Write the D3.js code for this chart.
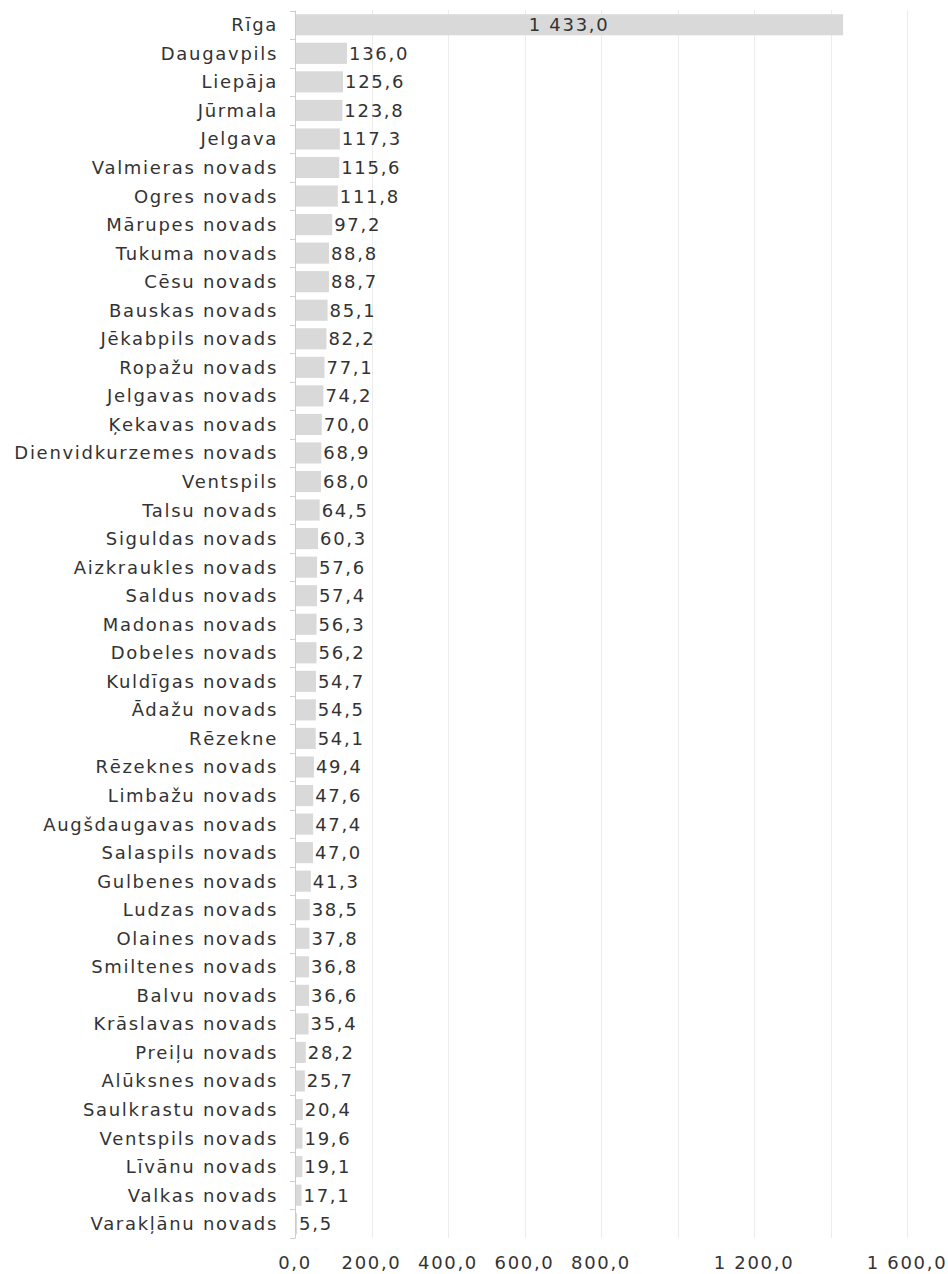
<!DOCTYPE html>
<html><head><meta charset="utf-8">
<script src="https://cdn.jsdelivr.net/npm/d3@7"></script>
<style>body{margin:0;background:#fff}svg text{font-family:"DejaVu Sans",sans-serif;}</style>
</head><body><div id="chart"></div>
<script>
const categories = ["Rīga","Daugavpils","Liepāja","Jūrmala","Jelgava","Valmieras novads","Ogres novads","Mārupes novads","Tukuma novads","Cēsu novads","Bauskas novads","Jēkabpils novads","Ropažu novads","Jelgavas novads","Ķekavas novads","Dienvidkurzemes novads","Ventspils","Talsu novads","Siguldas novads","Aizkraukles novads","Saldus novads","Madonas novads","Dobeles novads","Kuldīgas novads","Ādažu novads","Rēzekne","Rēzeknes novads","Limbažu novads","Augšdaugavas novads","Salaspils novads","Gulbenes novads","Ludzas novads","Olaines novads","Smiltenes novads","Balvu novads","Krāslavas novads","Preiļu novads","Alūksnes novads","Saulkrastu novads","Ventspils novads","Līvānu novads","Valkas novads","Varakļānu novads"];
const values = [1433.0,136.0,125.6,123.8,117.3,115.6,111.8,97.2,88.8,88.7,85.1,82.2,77.1,74.2,70.0,68.9,68.0,64.5,60.3,57.6,57.4,56.3,56.2,54.7,54.5,54.1,49.4,47.6,47.4,47.0,41.3,38.5,37.8,36.8,36.6,35.4,28.2,25.7,20.4,19.6,19.1,17.1,5.5];
const gridTicks = [0,200,400,600,800,1000,1200,1400,1600];
const labelTicks = [0,200,400,600,800,1200,1600];

const W=948,H=1274;
const loc = d3.formatLocale({decimal:",",thousands:"\u00a0",grouping:[3],currency:["",""]});
const fmt = loc.format(",.1f");
const svg = d3.select("#chart").append("svg").attr("width",W).attr("height",H);
const x = d3.scaleLinear().domain([0,1600]).range([295,907]);
const plotTop=10.5,plotBottom=1238;
const y = d3.scaleBand().domain(categories).range([plotTop,plotBottom]).paddingInner(0.26).paddingOuter(0.13);
const fs=18, ls="1.7px", col="#333";

svg.append("g").selectAll("line").data(gridTicks.slice(1)).join("line")
 .attr("x1",d=>Math.round(x(d))+0.5).attr("x2",d=>Math.round(x(d))+0.5)
 .attr("y1",plotTop).attr("y2",plotBottom)
 .attr("stroke","#d8d8d8").attr("stroke-width",1).attr("stroke-dasharray","1,1");

svg.append("g").selectAll("rect").data(values).join("rect")
 .attr("x",x(0)+1).attr("y",(d,i)=>y(categories[i]))
 .attr("width",d=>x(d)-x(0)-1).attr("height",y.bandwidth())
 .attr("fill","#d9d9d9");

const step=y.step();
const yax=svg.append("g");
yax.append("line").attr("x1",295.5).attr("x2",295.5).attr("y1",plotTop).attr("y2",plotBottom).attr("stroke","#ccc");
yax.selectAll("line.t").data(d3.range(categories.length+1)).join("line").attr("class","t")
 .attr("x1",290).attr("x2",295.5).attr("y1",i=>Math.round(plotTop+i*step)+0.5).attr("y2",i=>Math.round(plotTop+i*step)+0.5)
 .attr("stroke","#ccc");

svg.append("g").selectAll("text").data(categories).join("text")
 .attr("x",278).attr("y",d=>y(d)+y.bandwidth()/2).attr("dy","0.36em")
 .attr("text-anchor","end").attr("font-size",fs).attr("letter-spacing",ls).attr("fill",col).text(d=>d);

svg.append("g").selectAll("text").data(values).join("text")
 .attr("x",(d,i)=>i===0?(x(0)+x(d))/2:x(d)+2)
 .attr("y",(d,i)=>y(categories[i])+y.bandwidth()/2).attr("dy","0.36em")
 .attr("text-anchor",(d,i)=>i===0?"middle":"start")
 .attr("font-size",fs).attr("letter-spacing",ls).attr("fill",col).text(d=>fmt(d));

svg.append("g").selectAll("text").data(labelTicks).join("text")
 .attr("x",d=>x(d)).attr("y",1269).attr("text-anchor","middle")
 .attr("font-size",fs).attr("letter-spacing",ls).attr("fill",col).text(d=>fmt(d));
</script></body></html>
